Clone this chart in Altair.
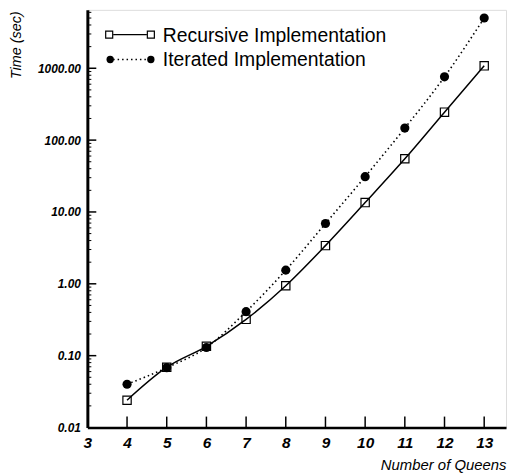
import altair as alt
import pandas as pd

queens = [4, 5, 6, 7, 8, 9, 10, 11, 12, 13]
recursive = [0.024, 0.069, 0.135, 0.32, 0.94, 3.4, 13.5, 55, 245, 1080]
iterated = [0.040, 0.068, 0.13, 0.41, 1.55, 6.9, 31, 147, 760, 5000]
x_ticks = [3, 4, 5, 6, 7, 8, 9, 10, 11, 12, 13]
y_ticks = [0.01, 0.1, 1, 10, 100, 1000]
y_minor = [m * d for d in [0.01, 0.1, 1, 10, 100, 1000] for m in range(2, 10) if m * d <= 6500]

W, H = 422, 421
FONT = "Liberation Sans"

xs = alt.Scale(domain=[3, 13.55], nice=False, zero=False)
ys = alt.Scale(type="log", domain=[0.01, 6500], nice=False)

df_r = pd.DataFrame({"q": queens, "t": recursive})
df_i = pd.DataFrame({"q": queens, "t": iterated})

x_axis = alt.Axis(values=x_ticks, grid=False, ticks=False, tickSize=0, domainColor="black",
                  domainWidth=2.5, labelFont=FONT, labelFontSize=15.5, labelFontWeight="bold",
                  labelFontStyle="italic", labelColor="black", labelPadding=8, labelFlush=False,
                  title="Number of Queens", titleFont=FONT, titleFontSize=15, titleFontStyle="italic",
                  titleFontWeight="normal", titleColor="black", titleAnchor="end", titleAlign="right",
                  titleX=W, titleY=37, titleBaseline="middle")
y_axis = alt.Axis(values=y_ticks, format=".2f", grid=False, ticks=False, tickSize=0,
                  domainColor="black", domainWidth=3, labelFont=FONT, labelFontSize=12,
                  labelFontWeight="bold", labelFontStyle="italic", labelColor="black",
                  labelPadding=7, labelFlush=False,
                  title="Time (sec)", titleFont=FONT, titleFontSize=14.5, titleFontStyle="italic",
                  titleFontWeight="normal", titleColor="black", titleAngle=-90, titleAlign="right",
                  titleX=-71, titleY=1, titleBaseline="middle")

line_r = alt.Chart(df_r).mark_line(color="black", strokeWidth=1.5, interpolate="monotone").encode(
    x=alt.X("q:Q", scale=xs, axis=x_axis), y=alt.Y("t:Q", scale=ys, axis=y_axis))
line_i = alt.Chart(df_i).mark_line(color="black", strokeWidth=1.6, strokeDash=[1.5, 3],
                                   interpolate="monotone").encode(
    x=alt.X("q:Q", scale=xs), y=alt.Y("t:Q", scale=ys))
pts_r = alt.Chart(df_r).mark_point(shape="square", size=70, filled=False,
                                   stroke="black", strokeWidth=1.2, opacity=1).encode(
    x=alt.X("q:Q", scale=xs), y=alt.Y("t:Q", scale=ys))
pts_i = alt.Chart(df_i).mark_circle(size=85, color="black", opacity=1).encode(
    x=alt.X("q:Q", scale=xs), y=alt.Y("t:Q", scale=ys))

# inward ticks
xt = alt.Chart(pd.DataFrame({"q": x_ticks[1:]})).mark_rule(color="black", strokeWidth=1.5).encode(
    x=alt.X("q:Q", scale=xs), y=alt.value(H - 11), y2=alt.value(H))
yt = alt.Chart(pd.DataFrame({"t": y_ticks[1:]})).mark_rule(color="black", strokeWidth=1.5).encode(
    y=alt.Y("t:Q", scale=ys), x=alt.value(0), x2=alt.value(9))
ym = alt.Chart(pd.DataFrame({"t": y_minor})).mark_rule(color="black", strokeWidth=1).encode(
    y=alt.Y("t:Q", scale=ys), x=alt.value(0), x2=alt.value(4))

# legend
leg_labels = ["Recursive Implementation", "Iterated Implementation"]
leg = pd.DataFrame({"label": leg_labels})
rows = [25, 50]
legend_layers = []
# row 1
legend_layers.append(alt.Chart(leg.iloc[[0]]).mark_rule(color="black", strokeWidth=1.3).encode(
    x=alt.value(26), x2=alt.value(60), y=alt.value(rows[0])))
legend_layers.append(alt.Chart(pd.DataFrame({"p": [22, 64]})).mark_point(
    shape="square", size=50, filled=True, fill="white", stroke="black", strokeWidth=1.2, opacity=1).encode(
    x=alt.X("p:Q", scale=None), y=alt.value(rows[0])))
legend_layers.append(alt.Chart(leg.iloc[[0]]).mark_text(align="left", baseline="middle", font=FONT,
                                                       fontSize=19.5, color="black").encode(
    text="label:N", x=alt.value(76), y=alt.value(rows[0] + 1)))
# row 2
legend_layers.append(alt.Chart(leg.iloc[[1]]).mark_rule(color="black", strokeWidth=1.5,
                                                       strokeDash=[1.5, 3]).encode(
    x=alt.value(26), x2=alt.value(60), y=alt.value(rows[1])))
legend_layers.append(alt.Chart(pd.DataFrame({"p": [23, 64]})).mark_circle(size=55, color="black",
                                                                         opacity=1).encode(
    x=alt.X("p:Q", scale=None), y=alt.value(rows[1])))
legend_layers.append(alt.Chart(leg.iloc[[1]]).mark_text(align="left", baseline="middle", font=FONT,
                                                       fontSize=19.5, color="black").encode(
    text="label:N", x=alt.value(76), y=alt.value(rows[1] + 1)))

chart = alt.layer(line_r, line_i, xt, yt, ym, pts_r, pts_i, *legend_layers).properties(
    width=W, height=H,
    autosize=alt.AutoSizeParams(type="none"),
    padding={"left": 80, "top": 0, "right": 2, "bottom": 45},
).configure_view(stroke=None).configure(background="white")

chart.save("out.html", embed_options={"renderer": "svg", "actions": False})
